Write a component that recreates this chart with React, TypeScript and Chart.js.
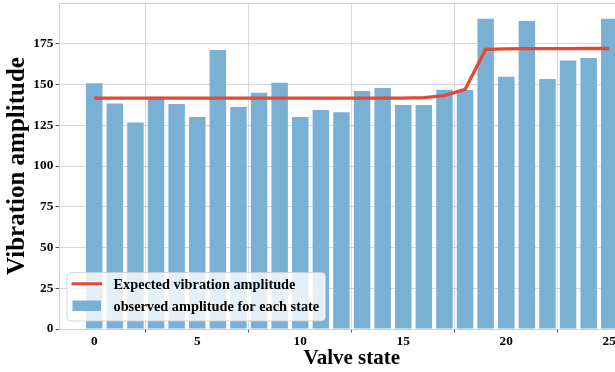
import React, { useEffect, useRef } from 'react';
import { Chart, registerables } from 'chart.js';

Chart.register(...registerables);

const states = [0, 1, 2, 3, 4, 5, 6, 7, 8, 9, 10, 11, 12, 13, 14, 15, 16, 17, 18, 19, 20, 21, 22, 23, 24, 25];
const observed = [150.7, 138.4, 126.7, 142.5, 138.0, 130.0, 171.2, 136.2, 145.0, 151.1, 130.0, 134.3, 132.9, 146.0, 147.8, 137.4, 137.4, 146.8, 146.6, 190.4, 154.8, 189.0, 153.4, 164.8, 166.3, 190.4];
const expected = [141.6, 141.6, 141.6, 141.6, 141.6, 141.6, 141.6, 141.6, 141.6, 141.6, 141.6, 141.6, 141.6, 141.6, 141.6, 141.7, 142.0, 143.2, 147.0, 171.6, 171.8, 172.0, 172.0, 172.0, 172.1, 172.1];
const xTicks = [0, 5, 10, 15, 20, 25];
const yTicks = [0, 25, 50, 75, 100, 125, 150, 175];
const legendLabels = ['Expected vibration amplitude', 'observed amplitude for each state'];

const FONT = "'Liberation Serif', 'Times New Roman', serif";
const BAR_COLOR = '#79b0d4';
const LINE_COLOR = '#e24a33';
const GRID_COLOR = 'rgba(176,176,176,0.5)';
const SPINE_COLOR = '#cfcfcf';

const overlayPlugin = {
  id: 'overlay',
  afterDraw(chart: any) {
    const { ctx, chartArea } = chart;
    ctx.save();
    // top spine
    ctx.strokeStyle = SPINE_COLOR;
    ctx.lineWidth = 1;
    ctx.beginPath();
    ctx.moveTo(chartArea.left, chartArea.top + 0.5);
    ctx.lineTo(chartArea.right, chartArea.top + 0.5);
    ctx.stroke();

    // legend
    const bx = chartArea.left + 8;
    const by = chartArea.bottom - 56.5;
    const bw = 258.5;
    const bh = 48.5;
    ctx.beginPath();
    ctx.roundRect(bx, by, bw, bh, 4);
    ctx.fillStyle = 'rgba(255,255,255,0.8)';
    ctx.fill();
    ctx.strokeStyle = 'rgba(204,204,204,0.8)';
    ctx.lineWidth = 1;
    ctx.stroke();

    // line handle
    ctx.strokeStyle = LINE_COLOR;
    ctx.lineWidth = 3;
    ctx.beginPath();
    ctx.moveTo(bx + 4.5, by + 11.3);
    ctx.lineTo(bx + 35, by + 11.3);
    ctx.stroke();
    // patch
    ctx.fillStyle = BAR_COLOR;
    ctx.fillRect(bx + 5.5, by + 28, 28.5, 10.5);

    ctx.fillStyle = '#000';
    ctx.font = `bold 14.3px ${FONT}`;
    ctx.textBaseline = 'alphabetic';
    ctx.textAlign = 'left';
    ctx.fillText(legendLabels[0], bx + 46.5, by + 16.7);
    ctx.fillText(legendLabels[1], bx + 46.5, by + 38.7);
    ctx.restore();
  },
};

export default function App() {
  const ref = useRef<HTMLCanvasElement | null>(null);
  useEffect(() => {
    if (!ref.current) return;
    const chart = new Chart(ref.current, {
      type: 'bar',
      data: {
        datasets: [
          {
            type: 'line',
            label: legendLabels[0],
            data: states.map((s, i) => ({ x: s, y: expected[i] })),
            borderColor: LINE_COLOR,
            borderWidth: 3.3,
            pointRadius: 0,
            tension: 0,
            fill: false,
            order: 0,
          } as any,
          {
            type: 'bar',
            label: legendLabels[1],
            data: states.map((s, i) => ({ x: s, y: observed[i] })),
            backgroundColor: BAR_COLOR,
            borderWidth: 0,
            barPercentage: 0.8,
            categoryPercentage: 1.0,
            order: 1,
          } as any,
        ],
      },
      options: {
        responsive: false,
        animation: false,
        devicePixelRatio: 1,
        layout: { padding: { top: 3, right: 15.5, left: 0, bottom: 0 } },
        plugins: { legend: { display: false }, tooltip: { enabled: false } },
        scales: {
          x: {
            type: 'linear',
            min: -1.71,
            max: 26.71,
            offset: false,
            z: 1,
            afterBuildTicks: (scale: any) => {
              scale.ticks = xTicks.map((v) => ({ value: v }));
            },
            afterFit: (scale: any) => {
              scale.height = 43;
              scale.paddingLeft = 0;
              scale.paddingRight = 0;
            },
            grid: {
              color: GRID_COLOR,
              lineWidth: 1,
              drawTicks: true,
              tickLength: 3.5,
              tickColor: '#555',
            },
            border: { display: true, color: SPINE_COLOR, width: 1 },
            ticks: {
              color: '#000',
              padding: 1,
              maxRotation: 0,
              font: { family: FONT, size: 13.3, weight: 'bold' },
            },
            title: {
              display: true,
              text: 'Valve state',
              color: '#000',
              padding: { top: 0, bottom: 0.5 },
              font: { family: FONT, size: 21, weight: 'bold' },
            },
          },
          y: {
            type: 'linear',
            min: 0,
            max: 200,
            z: 1,
            afterBuildTicks: (scale: any) => {
              scale.ticks = yTicks.map((v) => ({ value: v }));
            },
            afterFit: (scale: any) => {
              scale.width = 59;
              scale.paddingTop = 0;
              scale.paddingBottom = 0;
            },
            grid: {
              color: GRID_COLOR,
              lineWidth: 1,
              drawTicks: true,
              tickLength: 3.5,
              tickColor: '#555',
            },
            border: { display: true, color: SPINE_COLOR, width: 1 },
            ticks: {
              color: '#000',
              padding: 2.2,
              font: { family: FONT, size: 13.3, weight: 'bold' },
            },
            title: {
              display: true,
              text: 'Vibration amplitude',
              color: '#000',
              padding: { top: 2.6, bottom: 0 },
              font: { family: FONT, size: 25, weight: 'bold' },
            },
          },
        },
      } as any,
      plugins: [overlayPlugin],
    });
    return () => chart.destroy();
  }, []);

  return (
    <div
      style={{
        position: 'fixed',
        left: 0,
        top: 0,
        width: 615,
        height: 372,
        overflow: 'hidden',
        background: '#fff',
      }}
    >
      <canvas ref={ref} width={660} height={372} style={{ width: 660, height: 372, display: 'block' }} />
    </div>
  );
}
